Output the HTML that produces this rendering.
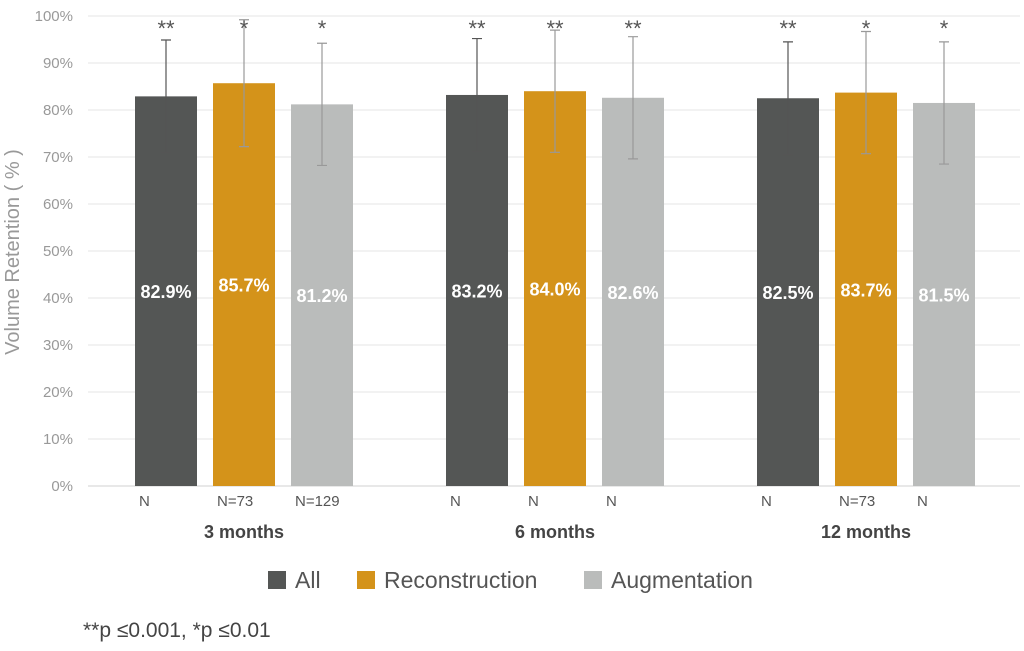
<!DOCTYPE html>
<html><head><meta charset="utf-8"><style>
body{margin:0;background:#fff;width:1024px;height:646px;overflow:hidden;font-family:"Liberation Sans",sans-serif}
</style></head><body>
<svg id="chart" width="1024" height="646" xmlns="http://www.w3.org/2000/svg" font-family="Liberation Sans, sans-serif"></svg>
<script>
const groups=["3 months","6 months","12 months"];
const seriesNames=["All","Reconstruction","Augmentation"];
const colors=["#545655","#d4931a","#babcbb"];
const errColors=["#555","#999","#999"];
const values=[[82.9,85.7,81.2],[83.2,84.0,82.6],[82.5,83.7,81.5]];
const errors=[[12,13.5,13],[12,13,13],[12,13,13]];
const stars=[["**","*","*"],["**","**","**"],["**","*","*"]];
const nLabels=[["N","N=73","N=129"],["N","N","N"],["N","N=73","N"]];
const yTicks=[0,10,20,30,40,50,60,70,80,90,100];
const svg=document.getElementById('chart');
const NS="http://www.w3.org/2000/svg";
const y=v=>486-v*4.7;
const groupX=g=>135+g*311;
const barX=(g,s)=>groupX(g)+s*78;
const bw=62;
function mk(t,a,txt){const e=document.createElementNS(NS,t);for(const k in a)e.setAttribute(k,a[k]);if(txt!==undefined)e.textContent=txt;svg.appendChild(e);return e;}
yTicks.forEach(t=>{
 const l=mk('line',{x1:88,x2:1020,y1:y(t),y2:y(t),stroke:t===0?'#d0d0d0':'#e6e6e6','stroke-width':1});
 
 
 const tx=mk('text',{x:73,y:y(t)+5,'text-anchor':'end','font-size':15,fill:'#999'},t+'%');
 
 
});
const yt=mk('text',{x:0,y:0,transform:'translate(19,252) rotate(-90)','text-anchor':'middle','font-size':20,fill:'#999'},'Volume Retention ( % )');


groups.forEach((gn,g)=>{
 seriesNames.forEach((sn,s)=>{
  const v=values[g][s],e=errors[g][s],x=barX(g,s);
  const r=mk('rect',{x:x,y:y(v),width:bw,height:y(0)-y(v),fill:colors[s]});
  
  
  const cx=x+bw/2;
  const el=mk('path',{d:`M${cx} ${y(v+e)}V${y(v-e)}M${cx-5} ${y(v+e)}H${cx+5}M${cx-5} ${y(v-e)}H${cx+5}`,stroke:errColors[s],'stroke-width':1.2,fill:'none'});
  
  
  const lb=mk('text',{x:cx,y:(y(v)+y(0))/2+7,'text-anchor':'middle','font-size':18,'font-weight':'bold',fill:'#fff'},v.toFixed(1)+'%');
  
  
  const st=mk('text',{x:cx,y:36,'text-anchor':'middle','font-size':22,fill:'#555'},stars[g][s]);
  
  
  const nl=mk('text',{x:x+4,y:506,'text-anchor':'start','font-size':15,fill:'#555'},nLabels[g][s]);
  
  
 });
 const gl=mk('text',{x:groupX(g)+109,y:538,'text-anchor':'middle','font-size':18,'font-weight':'bold',fill:'#444'},gn);
 
 
});
const legX=[268,357,584];
seriesNames.forEach((sn,s)=>{
 const r=mk('rect',{x:legX[s],y:571,width:18,height:18,fill:colors[s]});
 
 
 const t=mk('text',{x:legX[s]+27,y:588,'font-size':23,fill:'#555'},sn);
 
 
});
const fn=mk('text',{x:83,y:637,'font-size':21,fill:'#444'},'**p ≤0.001, *p ≤0.01');


</script>
</body></html>
